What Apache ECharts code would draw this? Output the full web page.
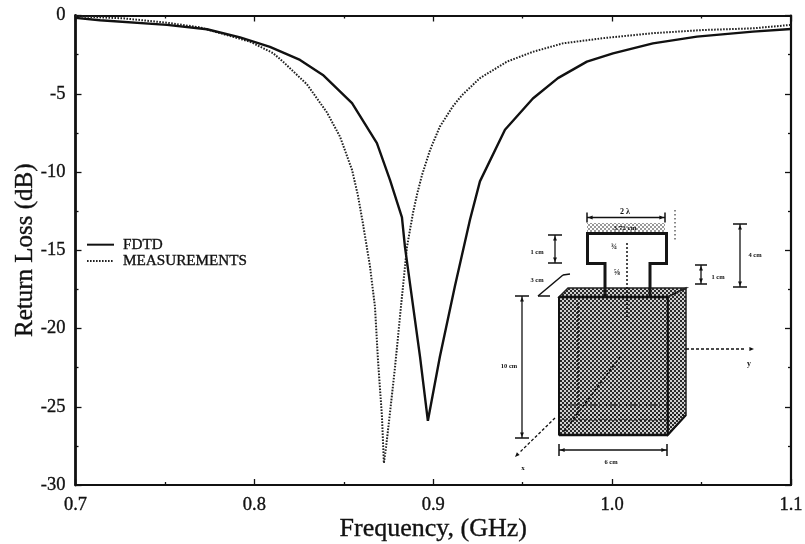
<!DOCTYPE html>
<html><head><meta charset="utf-8">
<style>html,body{margin:0;padding:0;background:#fff}#c{width:805px;height:544px}</style>
<script src="https://cdn.jsdelivr.net/npm/echarts@6/dist/echarts.min.js"></script>
</head><body><div id="c"></div>
<script>
const seriesNames = ['FDTD', 'MEASUREMENTS'];
const fdtd = [[0.7,-0.15],[0.7137,-0.3],[0.7511,-0.6],[0.7735,-0.88],[0.792,-1.4],[0.8087,-2.0],[0.8255,-2.84],[0.8383,-3.8],[0.8546,-5.6],[0.8685,-8.16],[0.8758,-10.5],[0.8825,-12.9],[0.8842,-14.8],[0.8926,-21.8],[0.897,-25.9],[0.9037,-21.8],[0.9121,-17.3],[0.9205,-13.07],[0.9261,-10.6],[0.9401,-7.3],[0.9557,-5.3],[0.9697,-4.0],[0.9859,-2.95],[1.0005,-2.42],[1.0228,-1.78],[1.0474,-1.35],[1.0787,-1.03],[1.1,-0.86]];
const measurements = [[0.7,-0.05],[0.7266,-0.18],[0.7511,-0.46],[0.7696,-0.76],[0.7975,-1.67],[0.8104,-2.4],[0.816,-2.95],[0.8294,-4.4],[0.8406,-6.2],[0.8479,-7.75],[0.8546,-9.87],[0.8579,-11.5],[0.8607,-13.3],[0.8646,-16.0],[0.8674,-18.6],[0.8691,-22.0],[0.8713,-25.6],[0.8724,-28.6],[0.8736,-27.6],[0.8758,-25.4],[0.8786,-22.5],[0.8823,-18.2],[0.8853,-14.8],[0.8887,-12.6],[0.891,-11.4],[0.8937,-10.2],[0.8982,-8.6],[0.9037,-7.1],[0.911,-5.8],[0.916,-5.1],[0.9261,-4.0],[0.9412,-2.95],[0.9557,-2.32],[0.9725,-1.78],[0.9948,-1.45],[1.0228,-1.13],[1.0507,-0.93],[1.0787,-0.82],[1.1,-0.6]];
const serif = '"Liberation Serif","Times New Roman",serif';
const ink = '#111';
const thick = {textBorderColor:ink,textBorderWidth:0.35};

function texture(dark, light){
  const c = document.createElement('canvas'); c.width = 4; c.height = 4;
  const g = c.getContext('2d');
  g.fillStyle = light; g.fillRect(0,0,4,4);
  g.fillStyle = dark; g.fillRect(0,0,2,2); g.fillRect(2,2,2,2);
  return {image:c, repeat:'repeat'};
}
const gfx = [];
const Z = 20;
const ln = (x1,y1,x2,y2,w=1,dash) => gfx.push({type:'line',z:Z,shape:{x1,y1,x2,y2},style:{stroke:ink,lineWidth:w,lineDash:dash||null}});
const poly = (points,fill) => gfx.push({type:'polygon',z:Z-1,shape:{points},style:{fill,stroke:'#222',lineWidth:1.5}});
const txt = (x,y,t,size=7,align='center') => gfx.push({type:'text',z:Z+1,x,y,style:{text:t,font:`bold ${size}px ${serif}`,fill:ink,align,verticalAlign:'middle'}});
const tri = (x,y,a) => { const s=5; gfx.push({type:'polygon',z:Z,shape:{points:[[x,y],[x-s*Math.cos(a-0.4),y-s*Math.sin(a-0.4)],[x-s*Math.cos(a+0.4),y-s*Math.sin(a+0.4)]]},style:{fill:ink}}); };
function dimV(x,y1,y2,b=7){ ln(x,y1,x,y2,1.3); ln(x-b,y1,x+b,y1,1.5); ln(x-b,y2,x+b,y2,1.5); tri(x,y1+1,-Math.PI/2); tri(x,y2-1,Math.PI/2); }
function dimH(y,x1,x2,b=6){ ln(x1,y,x2,y,1.3); ln(x1,y-b,x1,y+b,1.5); ln(x2,y-b,x2,y+b,1.5); tri(x1+1,y,Math.PI); tri(x2-1,y,0); }

const dk = texture('#2a2a2a','#d0d0d0');
poly([[559,297],[568,288],[686,288],[667.7,297]],dk);
poly([[667.7,297],[686,288],[686,415],[667.7,435]],dk);
poly([[559,297],[667.7,297],[667.7,435],[559,435]],dk);
gfx.push({type:'rect',z:Z-1,shape:{x:587,y:223,width:78,height:9},style:{fill:texture('#999','#fff')}});
gfx.push({type:'polyline',z:Z,shape:{points:[[605,296],[605,263.5],[587.5,263.5],[587.5,233.5],[666.5,233.5],[666.5,263.5],[650,263.5],[650,296]]},style:{stroke:'#151515',lineWidth:3,fill:null}});
ln(559,297,667.7,297,2.5); ln(559,297,559,435,2); ln(559,435,667.7,435,2.5); ln(667.7,297,667.7,435,2); ln(667.7,435,686,415,2);
ln(578,303,578,415,1.5,[2,2]); ln(578,415,686,415,1.5,[2,2]);
ln(627,243,627,320,1.5,[2,2]); ln(620,357,563,433,1.5,[3,2]);
ln(559,405,667,405,1,[3,2]); ln(559,420,667,420,1,[3,2]);
ln(675,210,675,240,1,[1.5,2.5]);
dimH(217.5,587,665,5); dimV(555,235,263); dimV(740,224,287); dimV(701,265,284,6); dimV(522,296,438); dimH(450,559,667,6);
ln(538,296,563,275,1.5); ln(538,296,550,296,1.5); ln(563,275,570,274,1.5);
ln(686,349,745,349,1.3,[3,2]); tri(754,349,0);
ln(555,418,520,452,1.3,[3,2]); tri(515,457,Math.PI*0.75);
txt(625,212,'2 \u03bb',8); txt(625,228,'3.72 cm',7); txt(537,252,'1 cm',6.5); txt(755,255,'4 cm',6.5); txt(718,277,'1 cm',6.5);
txt(537,280,'3 cm',6.5); txt(509,366,'10 cm',6.5); txt(611,462,'6 cm',6.5); txt(749,364,'y',8); txt(523,468,'x',7);
txt(614,247,'\u00be',8); txt(617,273,'\u215d',8);

const axisCommon = {
  axisLine:{show:true,onZero:false,lineStyle:{color:ink,width:2.2}},
  axisTick:{show:true,inside:true,length:6,lineStyle:{color:ink,width:1.3}},
  minorTick:{show:true,splitNumber:2,length:3,lineStyle:{color:ink,width:1.3}},
  splitLine:{show:false},minorSplitLine:{show:false}
};
const xLabel = v => v.toFixed(1);
const chart = echarts.init(document.getElementById('c'),null,{renderer:'canvas'});
chart.setOption({
  animation:false,backgroundColor:'#fff',
  grid:{left:75.5,right:14,top:15.5,bottom:59,outerBoundsMode:'none'},
  legend:{left:81,top:232,orient:'vertical',itemWidth:27,itemHeight:10,itemGap:1,
    data:seriesNames,selectedMode:false,itemStyle:{opacity:0},
    textStyle:{fontFamily:serif,fontSize:15.2,color:ink,padding:[0,0,0,4],...thick}},
  xAxis:[
    {...axisCommon,type:'value',min:0.7,max:1.1,interval:0.1,position:'bottom',name:'Frequency, (GHz)',nameLocation:'middle',nameGap:31,nameMoveOverlap:false,
     nameTextStyle:{fontFamily:serif,fontSize:26,color:ink,...thick},
     axisLabel:{formatter:xLabel,fontFamily:serif,fontSize:18.5,color:ink,margin:11,...thick}},
    {...axisCommon,type:'value',min:0.7,max:1.1,interval:0.1,position:'top',axisLabel:{show:false}}
  ],
  yAxis:[
    {...axisCommon,type:'value',min:-30,max:0,interval:5,position:'left',name:'Return Loss (dB)',nameLocation:'middle',nameGap:38,nameMoveOverlap:false,
     axisLine:{...axisCommon.axisLine,lineStyle:{color:ink,width:2.8}},
     nameTextStyle:{fontFamily:serif,fontSize:25,color:ink,...thick},
     axisLabel:{fontFamily:serif,fontSize:18.5,color:ink,margin:10,...thick}},
    {...axisCommon,type:'value',min:-30,max:0,interval:5,position:'right',axisLabel:{show:false}}
  ],
  series:[
    {name:seriesNames[0],type:'line',data:fdtd,symbol:'none',lineStyle:{color:'#111',width:2.4},itemStyle:{color:'#111'},z:3},
    {name:seriesNames[1],type:'line',data:measurements,symbol:'none',lineStyle:{color:'#222',width:2,type:[1.6,1.4]},itemStyle:{color:'#222'},z:2}
  ],
  graphic:{elements:gfx}
});
</script></body></html>
